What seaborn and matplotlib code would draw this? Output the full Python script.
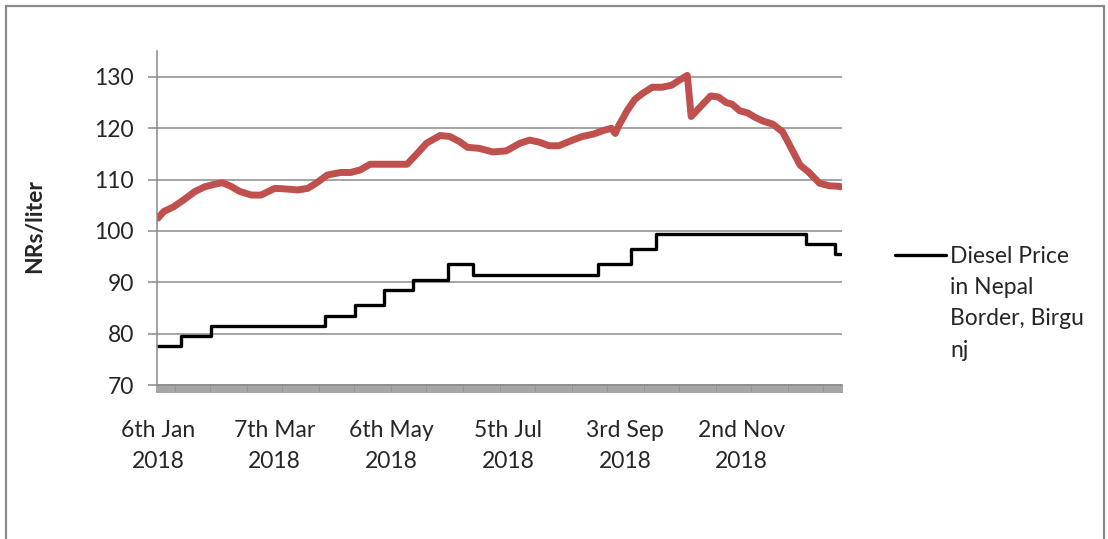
import matplotlib
matplotlib.use("Agg")
import matplotlib.pyplot as plt
import seaborn as sns
import pandas as pd
import numpy as np
from matplotlib.lines import Line2D
from matplotlib.patches import Rectangle

# ---- data (day index counted from 6th Jan 2018) ----
n_days = 352
tick_days = [0, 60, 120, 180, 240, 300]
tick_labels = ["6th Jan\n2018", "7th Mar\n2018", "6th May\n2018",
               "5th Jul\n2018", "3rd Sep\n2018", "2nd Nov\n2018"]

red_day = [0, 3, 8, 13, 19, 24, 29, 33, 37, 42, 48, 53, 60, 65, 72, 77, 82, 87,
           94, 99, 104, 109, 128, 133, 138, 145, 150, 155, 159, 165, 172, 179,
           186, 191, 196, 201, 206, 213, 218, 224, 229, 233, 235, 237, 239, 241,
           245, 249, 254, 259, 264, 268, 272, 274, 278, 284, 288, 292, 295, 299,
           303, 307, 311, 316, 321, 326, 330, 334, 340, 345, 350, 351]
red_price = [102.5, 103.8, 104.7, 106.0, 107.7, 108.6, 109.1, 109.4, 108.8, 107.7,
             107.0, 107.0, 108.3, 108.2, 108.0, 108.3, 109.5, 110.9, 111.4, 111.4,
             111.9, 113.0, 113.0, 115.0, 117.1, 118.6, 118.4, 117.4, 116.3, 116.1,
             115.4, 115.6, 117.1, 117.7, 117.3, 116.6, 116.6, 117.7, 118.4, 118.9,
             119.6, 120.0, 119.0, 120.7, 122.0, 123.4, 125.6, 126.8, 128.0, 128.0,
             128.4, 129.4, 130.3, 122.3, 123.9, 126.3, 126.1, 125.0, 124.7, 123.4,
             123.0, 122.1, 121.4, 120.8, 119.3, 115.7, 112.8, 111.6, 109.3, 108.8,
             108.7, 108.6]

diesel_day = [0, 12, 27, 86, 101, 116, 131, 149, 162, 226, 243, 256, 333, 348, 351]
diesel_price = [77.5, 79.5, 81.5, 83.5, 85.5, 88.5, 90.5, 93.5, 91.5, 93.5, 96.5,
                99.5, 97.5, 95.5, 95.5]
legend_label = "Diesel Price\nin Nepal\nBorder, Birgu\nnj"

# ---- styling ----
sns.set_style("white")
plt.rcParams["font.family"] = ["Lato", "DejaVu Sans"]
grid_col = "#8A8A8A"

W, H = 1108, 539
fig = plt.figure(figsize=(W / 100, H / 100), dpi=100)
ax = fig.add_axes([157 / W, 1 - 385 / H, (842 - 157) / W, (385 - 51.3) / H])

red_df = pd.DataFrame({"day": red_day, "price": red_price})
dsl_df = pd.DataFrame({"day": diesel_day, "price": diesel_price})

sns.lineplot(data=red_df, x="day", y="price", ax=ax, color="#C0504D",
             linewidth=5.0, estimator=None, sort=False)
sns.lineplot(data=dsl_df, x="day", y="price", ax=ax, color="black",
             linewidth=2.4, estimator=None, drawstyle="steps-post")

ax.set_xlim(-0.5, n_days - 0.5)
ax.set_ylim(70, 135)
ax.set_yticks([70, 80, 90, 100, 110, 120, 130])
ax.yaxis.grid(True, color=grid_col, linewidth=1.1)
ax.set_axisbelow(True)

ax.set_xticks(tick_days)
ax.set_xticklabels(tick_labels, fontsize=16.5, linespacing=1.62)
ax.set_xticks(np.arange(-0.5, n_days, 1), minor=True)
ax.tick_params(axis="x", which="both", bottom=True)
ax.tick_params(axis="x", which="major", length=0, pad=25)
ax.tick_params(axis="x", which="minor", length=5.8, width=1.2, color="#959595",
               direction="out")
ax.tick_params(axis="y", left=True, length=6.5, width=1.1, color=grid_col,
               direction="out", labelsize=16.5, pad=10)

for s in ["top", "right"]:
    ax.spines[s].set_visible(False)
for s in ["left", "bottom"]:
    ax.spines[s].set_color(grid_col)
    ax.spines[s].set_linewidth(1.1)

ax.set_xlabel("")
ax.set_ylabel("NRs/liter", fontsize=16.5, fontweight="bold")
ax.yaxis.set_label_coords(-(157 - 45) / (842 - 157), (385 - 226) / (385 - 51.3))

# legend (manual, single entry)
fig.add_artist(Line2D([895 / W, 946 / W], [1 - 255 / H, 1 - 255 / H],
                      transform=fig.transFigure, color="black", linewidth=2.4))
fig.text(950 / W, 1 - 246 / H, legend_label, fontsize=16.5, va="top",
         ha="left", linespacing=1.6)

# outer chart frame
fig.add_artist(Rectangle((6 / W, -0.05), (1104 - 6) / W, 1.05 - 6 / H,
                         transform=fig.transFigure, fill=False,
                         edgecolor="#8A8A8A", linewidth=1.6))

fig.savefig("out.png", dpi=100)
